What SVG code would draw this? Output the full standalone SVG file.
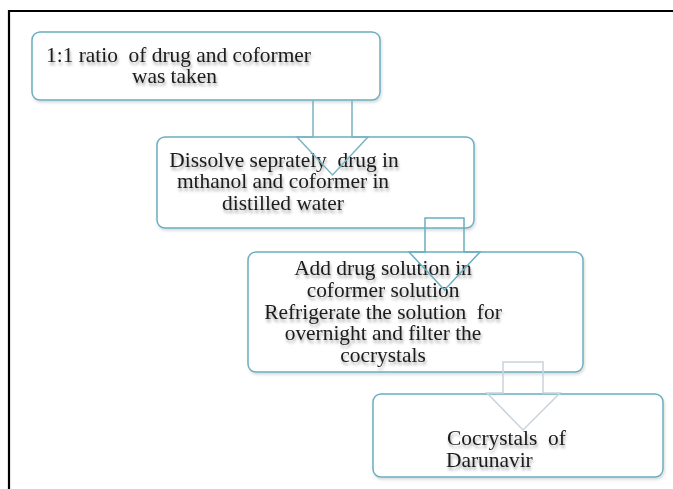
<svg xmlns="http://www.w3.org/2000/svg" width="673" height="489" viewBox="0 0 673 489">
<defs>
<style>
.box{fill:#ffffff;stroke:#6aaec0;stroke-width:1.5;filter:url(#bs)}
.arr{fill:none;stroke-width:1.5;stroke-linejoin:miter}
.t{font-family:"Liberation Serif","Times New Roman",serif;font-size:21.4px;fill:#1a1a1a;filter:url(#ts);white-space:pre}
.c{text-anchor:middle}
</style>
<filter id="ts" x="-10%" y="-30%" width="120%" height="170%">
<feGaussianBlur in="SourceAlpha" stdDeviation="1.6"/>
<feOffset dx="1" dy="2.5" result="b"/>
<feComponentTransfer><feFuncA type="linear" slope="0.35"/></feComponentTransfer>
<feMerge><feMergeNode/><feMergeNode in="SourceGraphic"/></feMerge>
</filter>
<filter id="bs" x="-5%" y="-10%" width="110%" height="125%">
<feGaussianBlur in="SourceAlpha" stdDeviation="1.5"/>
<feOffset dx="1" dy="2"/>
<feComponentTransfer><feFuncA type="linear" slope="0.15"/></feComponentTransfer>
<feMerge><feMergeNode/><feMergeNode in="SourceGraphic"/></feMerge>
</filter>
</defs>
<rect x="0" y="0" width="673" height="489" fill="#ffffff"/>
<g id="frame" stroke="#000" stroke-width="2.2">
<line x1="8" y1="11" x2="673" y2="11"/>
<line x1="9" y1="10" x2="9" y2="489"/>
</g>
<g id="node1">
<rect class="box" x="32" y="32" width="348" height="68" rx="8"/>
<text class="t" x="46" y="62" xml:space="preserve">1:1 ratio  of drug and coformer</text>
<text class="t" x="132" y="83">was taken</text>
</g>
<g id="node2">
<rect class="box" x="157" y="137" width="317" height="91" rx="8"/>
<text class="t c" x="284" y="167" xml:space="preserve">Dissolve seprately  drug in</text>
<text class="t c" x="283" y="188">mthanol and coformer in</text>
<text class="t c" x="283" y="210">distilled water</text>
</g>
<g id="node3">
<rect class="box" x="248" y="252" width="335" height="120" rx="8"/>
<text class="t c" x="383" y="275">Add drug solution in</text>
<text class="t c" x="383" y="297">coformer solution</text>
<text class="t c" x="383" y="319" xml:space="preserve">Refrigerate the solution  for</text>
<text class="t c" x="383" y="340">overnight and filter the</text>
<text class="t c" x="383" y="362">cocrystals</text>
</g>
<g id="node4">
<rect class="box" x="373" y="394" width="290" height="83" rx="8"/>
<text class="t" x="447" y="445" xml:space="preserve">Cocrystals  of</text>
<text class="t" x="446" y="467">Darunavir</text>
</g>
<g id="connectors">
<path class="arr" stroke="#7ab4c4" d="M313,100 V137 H297 L332.5,175 L368,137 H352 V100"/>
<path class="arr" stroke="#6aaec0" d="M425,218 H464 V252 H480 L444.5,290 L409,252 H425 Z"/>
<path class="arr" stroke="#c9d3dd" d="M503,362 H543 V393 H560 L523,430 L487,393 H503 Z"/>
</g>
</svg>
